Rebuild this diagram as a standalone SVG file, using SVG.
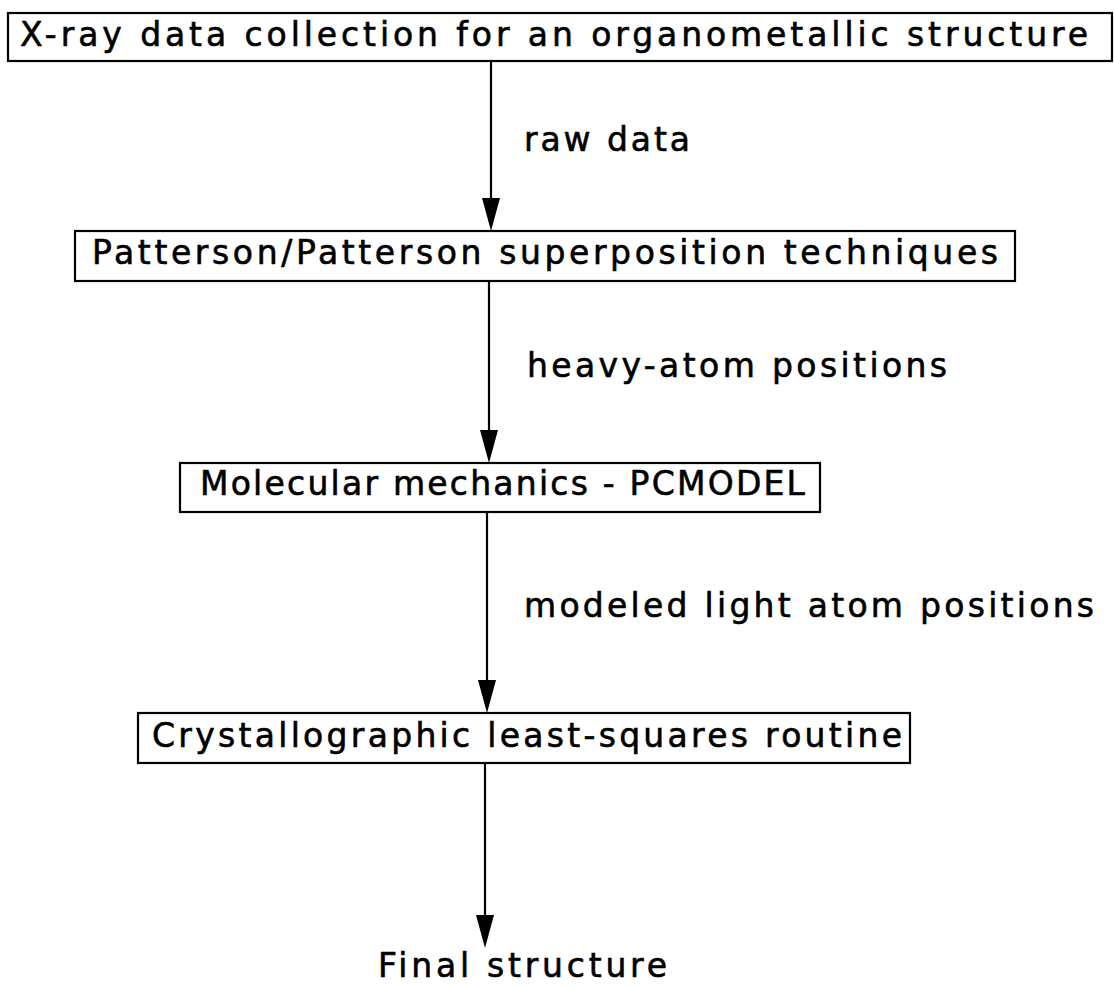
<svg xmlns="http://www.w3.org/2000/svg" width="1114" height="986" viewBox="0 0 1114 986">
<style>
.box{fill:#fff;stroke:#000;stroke-width:2.2}
.t{font-family:"DejaVu Sans","Liberation Sans",sans-serif;font-size:33px;fill:#000;stroke:#000;stroke-width:0.6}
.c{stroke:#000;stroke-width:2.2;fill:none}
.h{fill:#000;stroke:none}
</style>
<rect width="1114" height="986" fill="#fff"/>
<g id="n1"><rect class="box" x="8" y="13" width="1104" height="48"/><text class="t" x="20" y="46" textLength="1068" lengthAdjust="spacing">X-ray data collection for an organometallic structure</text></g>
<g id="n2"><rect class="box" x="75" y="231" width="940" height="50"/><text class="t" x="92" y="264" textLength="906" lengthAdjust="spacing">Patterson/Patterson superposition techniques</text></g>
<g id="n3"><rect class="box" x="180" y="463" width="640" height="49"/><text class="t" x="200" y="495" textLength="605" lengthAdjust="spacing">Molecular mechanics - PCMODEL</text></g>
<g id="n4"><rect class="box" x="138" y="713" width="772" height="50"/><text class="t" x="152" y="747" textLength="750" lengthAdjust="spacing">Crystallographic least-squares routine</text></g>
<g id="n5"><text class="t" x="378" y="977" textLength="289" lengthAdjust="spacing">Final structure</text></g>
<g id="connectors">
<line class="c" x1="491" y1="61" x2="491" y2="205"/><polygon class="h" points="482,198 500,198 491,231"/>
<line class="c" x1="489" y1="281" x2="489" y2="440"/><polygon class="h" points="480,430 498,430 489,463"/>
<line class="c" x1="487" y1="512" x2="487" y2="690"/><polygon class="h" points="478,680 496,680 487,713"/>
<line class="c" x1="485" y1="763" x2="485" y2="925"/><polygon class="h" points="476,915 494,915 485,948"/>
<text class="t" x="524" y="151" textLength="166" lengthAdjust="spacing">raw data</text>
<text class="t" x="527" y="377" textLength="420" lengthAdjust="spacing">heavy-atom positions</text>
<text class="t" x="524" y="617" textLength="570" lengthAdjust="spacing">modeled light atom positions</text>
</g>
</svg>
